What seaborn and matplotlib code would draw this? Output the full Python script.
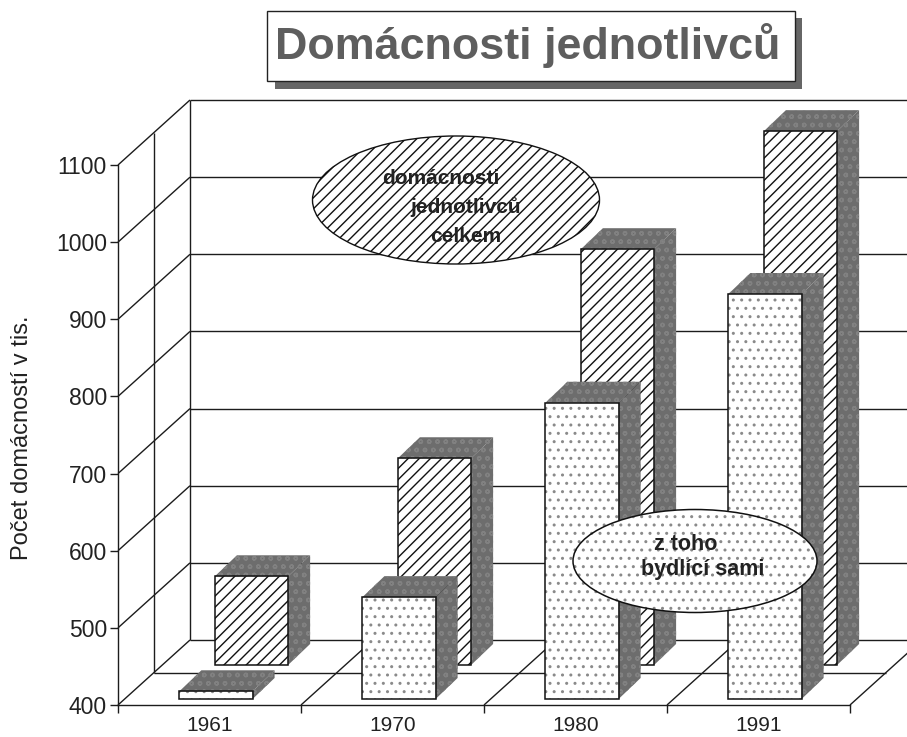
import matplotlib
matplotlib.use('Agg')
import matplotlib.pyplot as plt
import seaborn as sns
from matplotlib.patches import Ellipse, Polygon, Rectangle

# Values (thousands of households)
years = ['1961', '1970', '1980', '1991']
total_households = [515, 668, 939, 1092]
living_alone = [410, 532, 784, 925]
y_ticks = [400, 500, 600, 700, 800, 900, 1000, 1100]

sns.set_theme(style='white')
plt.rcParams['font.family'] = ['Liberation Sans', 'DejaVu Sans']
plt.rcParams['hatch.linewidth'] = 1.0

W, H = 907, 737
fig = plt.figure(figsize=(W / 100, H / 100), dpi=100, facecolor='white')


def add_plane(dx, dy):
    # axes for one depth plane, shifted in pixels from the front of the box
    left, bottom = 118 + dx, H - 705 + dy
    plane = fig.add_axes([left / W, bottom / H, 732 / W, 540 / H])
    plane.set_xlim(-0.5, 3.5)
    plane.set_ylim(400, 1100)
    plane.patch.set_alpha(0)
    return plane


# Box: walls and floor
ax = add_plane(0, 0)
px_x = 732 / 4
px_y = 540 / 700
wall_dx = 72 / px_x
wall_dy = 65 / px_y
line = dict(color='#1c1c1c', lw=1.0, clip_on=False, solid_capstyle='butt')

for v in y_ticks:
    ax.plot([-0.5, -0.5 + wall_dx], [v, v + wall_dy], **line)
    ax.plot([-0.5 + wall_dx, 3.5 + wall_dx], [v + wall_dy, v + wall_dy], **line)
for k in (0.5, 1):
    ax.plot([-0.5 + k * wall_dx] * 2, [400 + k * wall_dy, 1100 + k * wall_dy], **line)
ax.plot([-0.5 + wall_dx / 2, 3.5 + wall_dx / 2], [400 + wall_dy / 2] * 2, **line)
for b in [0.5, 1.5, 2.5, 3.5]:
    ax.plot([b, b + wall_dx], [400, 400 + wall_dy], **line)

ax.set_xticks([-0.5, 0.5, 1.5, 2.5, 3.5], minor=True)
ax.set_xticks(range(4), labels=years)
ax.set_yticks(y_ticks)
ax.tick_params(axis='x', which='major', length=0, labelsize=15, pad=8, labelcolor='#222222')
ax.tick_params(axis='x', which='minor', length=6, width=1, color='#1c1c1c', bottom=True)
ax.tick_params(axis='y', length=6, width=1, color='#1c1c1c', labelsize=16.5, pad=2,
               labelcolor='#222222', left=True)
ax.set_ylabel('Počet domácností v tis.', fontsize=17, color='#222222')
ax.yaxis.set_label_coords((33 - 118) / 732, (705 - 438) / 540)
for name in ('top', 'right'):
    ax.spines[name].set_visible(False)
for name in ('left', 'bottom'):
    ax.spines[name].set_color('#1c1c1c')
    ax.spines[name].set_linewidth(1.0)


def draw_row(plane, values, hatch, hatch_color):
    sns.barplot(x=years, y=values, ax=plane, color='white', saturation=1, width=0.4,
                edgecolor=hatch_color, linewidth=0, hatch=hatch, errorbar=None)
    plane.set_xlim(-0.5, 3.5)
    plane.set_ylim(400, 1100)
    plane.axis('off')
    dx, dy = 22 / px_x, 21 / px_y
    shade = dict(facecolor='#6d6d6d', edgecolor='#818181', linewidth=0, hatch='oo', clip_on=False)
    for bar, v in zip(list(plane.patches), values):
        bar.set_y(400)
        bar.set_height(v - 400)
        bar.set_clip_on(False)
        x0, x1 = bar.get_x(), bar.get_x() + bar.get_width()
        plane.add_patch(Polygon([(x1, 400), (x1 + dx, 400 + dy), (x1 + dx, v + dy), (x1, v)], **shade))
        plane.add_patch(Polygon([(x0, v), (x0 + dx, v + dy), (x1 + dx, v + dy), (x1, v)], **shade))
        plane.add_patch(Rectangle((x0, 400), x1 - x0, v - 400, fill=False, edgecolor='#111111',
                                  lw=1.1, clip_on=False))


draw_row(add_plane(42, 40), total_households, '///', '#111111')
draw_row(add_plane(6.5, 6), living_alone, '..', '#8a8a8a')

# Title box and ellipse labels, placed in image pixels
notes = fig.add_axes([0, 0, 1, 1])
notes.set_xlim(0, W)
notes.set_ylim(H, 0)
notes.axis('off')
notes.patch.set_alpha(0)

notes.add_patch(Rectangle((275, 18), 527, 71, facecolor='#666666', edgecolor='none'))
notes.add_patch(Rectangle((267, 11), 528, 70, facecolor='white', edgecolor='#222222', lw=1.0))
notes.text(528, 59, 'Domácnosti jednotlivců', ha='center', va='baseline', fontsize=32.3,
           fontweight='bold', color='#5e5e5e')

notes.add_patch(Ellipse((456, 200), 287, 128, facecolor='white', edgecolor='#111111', lw=1.0, hatch='///'))
for x, y, txt in [(441, 178, 'domácnosti'), (466, 207, 'jednotlivců'), (466, 236, 'celkem')]:
    notes.text(x, y, txt, ha='center', va='center', fontsize=15, fontweight='bold', color='#222222')

notes.add_patch(Ellipse((695, 561), 244, 103, facecolor='white', edgecolor='#8a8a8a', lw=0, hatch='..'))
notes.add_patch(Ellipse((695, 561), 244, 103, fill=False, edgecolor='#111111', lw=1.1))
for x, y, txt in [(686, 544, 'z toho'), (703, 570, 'bydlící sami')]:
    notes.text(x, y, txt, ha='center', va='center', fontsize=15.5, fontweight='bold', color='#222222')

fig.savefig('out.png', dpi=100)
